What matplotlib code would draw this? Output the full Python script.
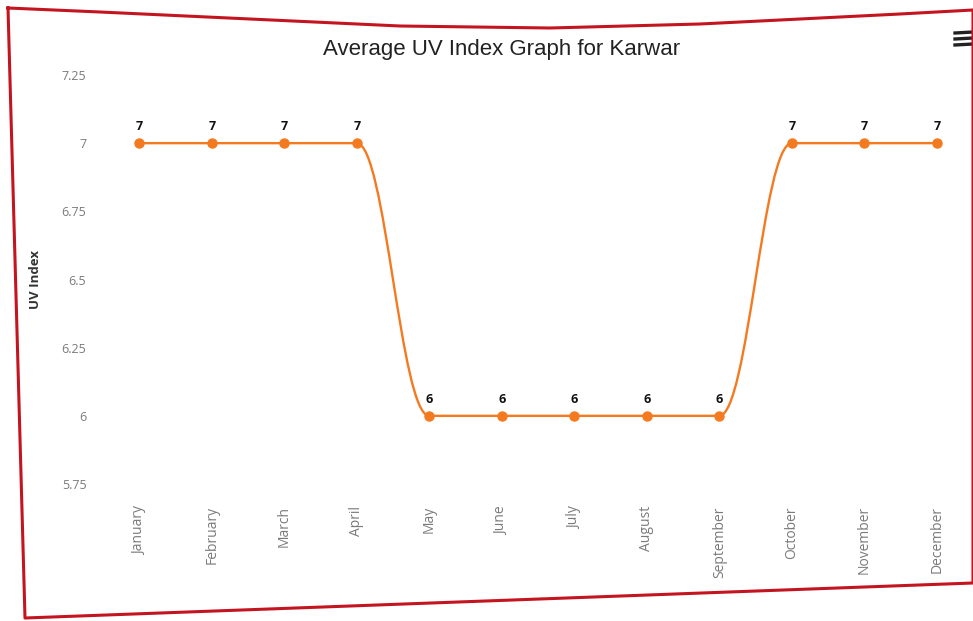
import numpy as np
import matplotlib.pyplot as plt
from matplotlib.path import Path
from matplotlib.patches import PathPatch
from matplotlib.lines import Line2D

plt.rcParams['font.family'] = ['Open Sans', 'DejaVu Sans']

# Monthly average UV index for Karwar
months = ["January", "February", "March", "April", "May", "June",
          "July", "August", "September", "October", "November", "December"]
uv_index = [7, 7, 7, 7, 6, 6, 6, 6, 6, 7, 7, 7]

y_ticks = [5.75, 6, 6.25, 6.5, 6.75, 7, 7.25]
y_tick_labels = ["5.75", "6", "6.25", "6.5", "6.75", "7", "7.25"]

line_color = "#f47a20"


def spline_path(xs, ys, smoothing=1.5):
    """Smooth curve through the points, bezier control points like a Highcharts spline."""
    n = len(xs)
    denom = smoothing + 1
    left = [None] * n
    right = [None] * n
    for i in range(1, n - 1):
        lx, ly = xs[i - 1], ys[i - 1]
        px, py = xs[i], ys[i]
        nx, ny = xs[i + 1], ys[i + 1]
        lcx = (smoothing * px + lx) / denom
        lcy = (smoothing * py + ly) / denom
        rcx = (smoothing * px + nx) / denom
        rcy = (smoothing * py + ny) / denom
        corr = 0
        if rcx != lcx:
            corr = (rcy - lcy) * (rcx - px) / (rcx - lcx) + py - rcy
        lcy += corr
        rcy += corr
        # keep control points inside the neighbouring values
        if lcy > ly and lcy > py:
            lcy = max(ly, py)
            rcy = 2 * py - lcy
        elif lcy < ly and lcy < py:
            lcy = min(ly, py)
            rcy = 2 * py - lcy
        if rcy > ny and rcy > py:
            rcy = max(ny, py)
            lcy = 2 * py - rcy
        elif rcy < ny and rcy < py:
            rcy = min(ny, py)
            lcy = 2 * py - rcy
        left[i] = (lcx, lcy)
        right[i] = (rcx, rcy)
    verts = [(xs[0], ys[0])]
    codes = [Path.MOVETO]
    for i in range(1, n):
        c1 = right[i - 1] if right[i - 1] else (xs[i - 1], ys[i - 1])
        c2 = left[i] if left[i] else (xs[i], ys[i])
        verts += [c1, c2, (xs[i], ys[i])]
        codes += [Path.CURVE4] * 3
    return Path(verts, codes)


W, H = 973, 621
fig = plt.figure(figsize=(W / 100, H / 100), dpi=100)
fig.patch.set_facecolor("white")

ax = fig.add_axes([103 / W, 1 - 484 / H, 870 / W, 409 / H])
x = np.arange(len(months))

ax.add_patch(PathPatch(spline_path(x, uv_index), fill=False,
                       edgecolor=line_color, linewidth=1.7, zorder=2))
ax.plot(x, uv_index, linestyle="none", marker="o", markersize=6.5,
        color=line_color, zorder=3)

for xi, v in zip(x, uv_index):
    ax.annotate(f"{v}", (xi, v), xytext=(0, 7), textcoords="offset points",
                ha="center", va="bottom", fontsize=9, fontweight="bold",
                color="#111111")

ax.set_xlim(-0.5, len(months) - 0.5)
ax.set_ylim(5.75, 7.25)
ax.set_yticks(y_ticks)
ax.set_yticklabels(y_tick_labels)
ax.set_xticks(x)
ax.set_xticklabels(months, rotation=90)
ax.tick_params(axis="both", length=0, labelcolor="#7a7a7a")
ax.tick_params(axis="y", pad=12, labelsize=9)
ax.tick_params(axis="x", pad=16, labelsize=10)
for side in ax.spines.values():
    side.set_visible(False)

ax.set_ylabel("UV Index", fontsize=9.5, color="#333333", fontweight="bold",
              labelpad=14)
fig.text(502 / W, 1 - 50 / H, "Average UV Index Graph for Karwar",
         ha="center", va="center", fontsize=16, color="#222222",
         family=["Liberation Sans", "DejaVu Sans"])

# menu icon in the top right corner
for yy in (33, 39, 45):
    fig.add_artist(Line2D([955 / W, 973 / W], [1 - yy / H, 1 - (yy - 1) / H],
                          transform=fig.transFigure, color="#222222",
                          linewidth=2.4))

# red frame around the chart
frame_x = [8, 100, 400, 550, 700, 900, 973, 973, 25, 8]
frame_y = [8, 12, 26, 28, 24, 14, 10, 583, 618, 8]
fig.add_artist(Line2D([p / W for p in frame_x], [1 - p / H for p in frame_y],
                      transform=fig.transFigure, color="#c4141f",
                      linewidth=2.2, solid_joinstyle="round"))

fig.savefig("out.png", dpi=100)
